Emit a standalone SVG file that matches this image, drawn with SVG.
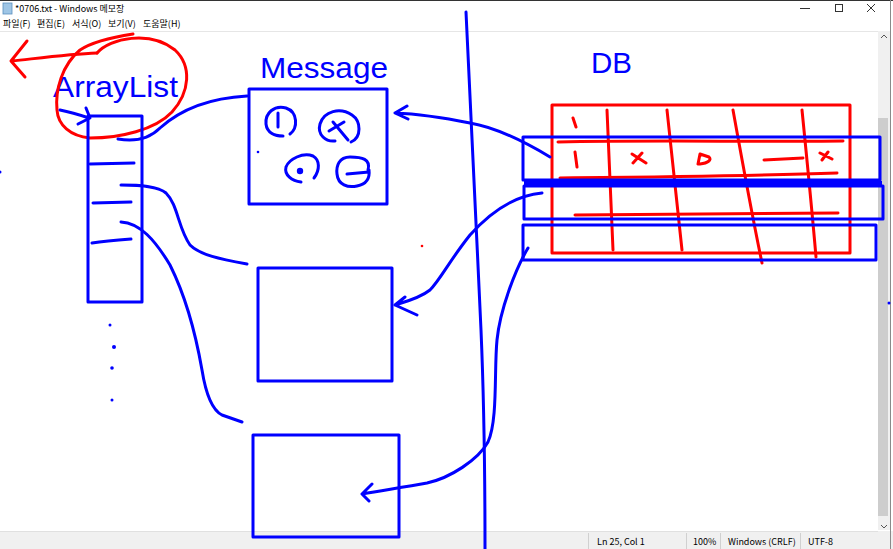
<svg xmlns="http://www.w3.org/2000/svg" width="893" height="549" viewBox="0 0 893 549">
<style>
.ui{font-family:"Noto Sans CJK KR","Liberation Sans",sans-serif;fill:#000}
.b{fill:none;stroke:#0000ff;stroke-width:3;stroke-linecap:round;stroke-linejoin:round}
.r{fill:none;stroke:#ff0000;stroke-width:3;stroke-linecap:round;stroke-linejoin:round}
.lbl{font-family:"Liberation Sans",Arial,sans-serif;fill:#0000ff;font-size:30px}
</style>
<rect width="893" height="549" fill="#ffffff"/>
<!-- window chrome -->
<g id="chrome">
<line x1="0" y1="0.5" x2="893" y2="0.5" stroke="#333"/>
<rect x="3" y="3" width="9" height="11" fill="#9fc6e6" stroke="#5a8fbf" stroke-width="0.8"/>
<text class="ui" x="15" y="12" font-size="9">*0706.txt - Windows 메모장</text>
<g class="ui" font-size="9"><text x="3" y="27">파일(F)</text><text x="37" y="27">편집(E)</text><text x="72" y="27">서식(O)</text><text x="108" y="27">보기(V)</text><text x="143" y="27">도움말(H)</text></g>
<line x1="0" y1="31.5" x2="878" y2="31.5" stroke="#e6e6e6"/>
<line x1="800" y1="8.5" x2="810" y2="8.5" stroke="#333"/>
<rect x="835.5" y="4.5" width="7" height="7" fill="none" stroke="#333"/>
<path d="M867 4 L875 12 M875 4 L867 12" stroke="#333" stroke-width="1"/>
<rect x="878" y="31" width="12" height="499" fill="#f0f0f0"/>
<rect x="878" y="118" width="10" height="398" fill="#cdcdcd"/>
<path d="M881 38 L884 35 L887 38" fill="none" stroke="#555"/>
<path d="M881 525 L884 528 L887 525" fill="none" stroke="#555"/>
<rect x="0" y="531" width="893" height="18" fill="#f0f0f0"/>
<line x1="0" y1="531.5" x2="878" y2="531.5" stroke="#e0e0e0"/>
<g stroke="#d0d0d0"><line x1="588.5" y1="533" x2="588.5" y2="549"/><line x1="686.5" y1="533" x2="686.5" y2="549"/><line x1="720.5" y1="533" x2="720.5" y2="549"/><line x1="800.5" y1="533" x2="800.5" y2="549"/></g>
<g class="ui" font-size="9"><text x="597" y="545">Ln 25, Col 1</text><text x="693" y="545">100%</text><text x="728" y="545">Windows (CRLF)</text><text x="808" y="545">UTF-8</text></g>
<line x1="890.5" y1="0" x2="890.5" y2="549" stroke="#8a8a8a"/>
</g>
<!-- labels -->
<text class="lbl" x="53" y="97" textLength="125" lengthAdjust="spacingAndGlyphs">ArrayList</text>
<text class="lbl" x="260" y="78" textLength="128" lengthAdjust="spacingAndGlyphs">Message</text>
<text class="lbl" x="591" y="73" textLength="41" lengthAdjust="spacingAndGlyphs">DB</text>
<!-- red annotation -->
<g id="redmark">
<path class="r" d="M97 53 C70 54 40 58 12 61 M27 41 L11 61 L25 77"/>
<path class="r" d="M97 53 C110 38 150 30 175 50 C192 66 190 92 172 112 C155 130 120 138 90 138 C70 136 58 125 57 110 C55 90 62 65 80 50 C95 40 120 36 133 34"/>
</g>
<!-- ArrayList -->
<g id="arraylist">
<rect class="b" x="88" y="116" width="54" height="186"/>
<path class="b" d="M90 164 L134 163 M93 203 L131 202 M92 243 C105 241 118 240 131 239"/>
<path class="b" d="M60 110 C70 112 80 115 89 118 M86 108 L90 118 L78 124"/>
<g fill="#0000ff"><circle cx="110" cy="325" r="1.5"/><circle cx="114" cy="347" r="2"/><circle cx="112" cy="368" r="1.8"/><circle cx="112" cy="400" r="1.5"/><circle cx="0" cy="172" r="1.5"/><circle cx="889" cy="303" r="1.5"/></g>
</g>
<!-- Message box -->
<g id="message">
<rect class="b" x="249" y="89" width="138" height="115"/>
<path class="b" d="M290 134 C298 128 298 112 286 108 C274 105 265 113 266 124 C267 133 275 136 283 136 M278 113 L278 127"/>
<path class="b" d="M351 142 C362 137 361 121 352 115 C340 107 324 111 320 124 C317 135 326 142 335 141 M329 131 L344 122 M333 122 L348 140"/>
<path class="b" d="M314 178 C320 170 320 160 313 156 C303 152 289 159 286 167 C284 175 292 181 301 182"/>
<circle cx="300" cy="171" r="3.2" fill="#0000ff"/>
<path class="b" d="M368 170 C371 159 362 157 350 157 C339 157 336 166 337 174 C338 185 348 188 357 186 C367 184 370 178 369 170 M347 174 L369 172"/>
<circle cx="258" cy="152" r="1.3" fill="#0000ff"/>
</g>
<g id="box2"><rect class="b" x="258" y="268" width="134" height="113"/></g>
<g id="box3"><rect class="b" x="253" y="435" width="146" height="102"/></g>
<!-- DB table -->
<g id="db">
<rect class="r" x="552" y="105" width="298" height="148"/>
<path class="r" d="M607 110 C609 160 611 210 613 250 M667 110 C672 160 678 210 682 250 M733 110 C742 160 752 215 762 263 M802 110 C807 160 812 210 816 257"/>
<path class="r" d="M558 142 C650 140 750 142 843 141 M560 178 C650 177 750 176 837 173 M575 215 C670 214 760 214 838 213"/>
<path class="r" d="M573 118 L576 127 M575 152 L577 167 M632 154 L646 163 M633 163 L642 153 M698 164 L700 154 L709 157 C712 160 708 163 700 164 M764 160 L803 158 M820 153 L832 159 M822 160 L828 152"/>
<circle cx="422" cy="246" r="1.3" fill="#ff0000"/>
<rect class="b" x="523" y="137" width="357" height="43"/>
<line x1="524" y1="184" x2="882" y2="184" stroke="#0000ff" stroke-width="6"/>
<rect class="b" x="524" y="186" width="359" height="33"/>
<rect class="b" x="523" y="225" width="353" height="35"/>
</g>
<!-- divider -->
<path class="b" d="M466 12 C470 100 476 220 481 330 C484 400 485 450 485 549"/>
<!-- connectors -->
<g id="connectors">
<path class="b" d="M118 139 C135 142 150 138 160 128 C180 110 210 98 247 96"/>
<path class="b" d="M121 185 C140 185 158 186 166 193 C178 205 178 228 190 245 C200 255 220 259 247 264"/>
<path class="b" d="M121 222 C140 223 155 240 170 265 C185 295 195 330 202 370 C206 395 212 410 222 415 L242 422"/>
<path class="b" d="M550 157 C530 145 500 128 470 123 C445 118 420 114 395 113 M407 106 L395 113 L408 119"/>
<path class="b" d="M542 193 C520 195 495 207 470 235 C450 260 440 280 430 290 C420 298 405 302 395 305 M405 297 L395 305 L417 315"/>
<path class="b" d="M528 248 C515 270 500 310 497 340 C494 370 498 420 488 442 C478 460 450 478 427 483 C405 487 385 490 362 494 M372 484 L362 494 L369 501"/>
</g>
</svg>
